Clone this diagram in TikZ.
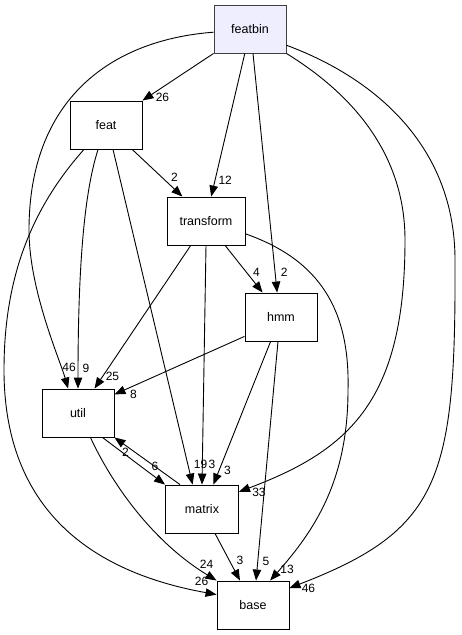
\documentclass[tikz,border=0pt]{standalone}
\usepackage{fontspec}
\setmainfont{Liberation Sans}
\usetikzlibrary{arrows.meta,positioning}
\definecolor{curdir}{HTML}{EEEEFF}

\begin{document}
\begin{tikzpicture}[x=1pt, y=-1pt, line width=.9pt,
        >={Triangle[length=11pt,width=8.5pt]},
        dirbox/.style={draw, rectangle, inner sep=0pt, minimum width=72pt, minimum height=48pt, font=\fontsize{12.5}{14}\selectfont},
        lbl/.style={inner sep=0pt, font=\fontsize{12}{14}\selectfont}]
        \useasboundingbox (0,0) rectangle (461,635);
        \draw node[dirbox, fill=curdir, draw=black!75] (featbin) at (250,29) {featbin};
        \draw node[dirbox] (feat) at (106,125) {feat};
        \draw node[dirbox, minimum width=78pt] (transform) at (206,221) {transform};
        \draw node[dirbox] (hmm) at (281,317) {hmm};
        \draw node[dirbox] (util) at (78,413) {util};
        \draw node[dirbox, minimum width=73pt] (matrix) at (202,509) {matrix};
        \draw node[dirbox] (base) at (253,605) {base};
        % from featbin
        \draw (featbin.south west) edge[->] node[lbl, pos=1, shift={(20,-3)}] {26} (feat.north east);
        \draw (featbin.258) edge[->] node[lbl, pos=1, shift={(14,-16)}] {12} (transform.78);
        \draw (featbin.277) edge[->] node[lbl, pos=1, shift={(7,-20)}] {2} (hmm.99);
        \draw[->] (featbin.185) .. controls (110,40) and (29,100) .. (29,230)
                .. controls (29,290) and (60,360) .. (util.112) node[lbl, pos=1, shift={(1,-21)}] {46};
        \draw[->] (featbin.south east) .. controls (370,105) and (405,170) .. (405,240)
                .. controls (405,400) and (350,450) .. (matrix.25) node[lbl, pos=1, shift={(20,1)}] {33};
        \draw[->] (featbin.336) .. controls (380,80) and (455,150) .. (455,260)
                .. controls (456,480) and (440,530) .. (base.25) node[lbl, pos=1, shift={(19,0)}] {46};
        % from feat
        \draw (feat.317) edge[->] node[lbl, pos=1, shift={(-8,-19)}] {2} (transform.134);
        \draw[->] (feat.252) .. controls (85,190) and (78,260) .. (util.north) node[lbl, pos=1, shift={(8,-20)}] {9};
        \draw (feat.286) edge[->] node[lbl, pos=1, shift={(8,-20)}] {19} (matrix.111);
        \draw[->] (feat.228) .. controls (30,210) and (4,280) .. (4,370)
                .. controls (4,500) and (80,570) .. (base.164) node[lbl, pos=1, shift={(-15,-13)}] {26};
        % from transform
        \draw (transform.238) edge[->] node[lbl, pos=1, shift={(18,-12)}] {25} (util.56);
        \draw (transform.south) edge[->] node[lbl, pos=1, shift={(10,-20)}] {3} (matrix.north);
        \draw (transform.308) edge[->] node[lbl, pos=1, shift={(-6,-20)}] {4} (hmm.127);
        \draw[->] (transform.342) .. controls (320,260) and (350,310) .. (348,390)
                .. controls (348,480) and (315,530) .. (base.55) node[lbl, pos=1, shift={(17,-11)}] {13};
        % from hmm
        \draw (hmm.208) edge[->] node[lbl, pos=1, shift={(19,0)}] {8} (util.27);
        \draw (hmm.247) edge[->] node[lbl, pos=1, shift={(14,-14)}] {3} (matrix.65);
        \draw (hmm.263) edge[->] node[lbl, pos=1, shift={(10,-19)}] {5} (base.83);
        % util and matrix
        \draw (util.315) edge[->] node[lbl, pos=1, shift={(-10,-18)}] {6} (matrix.north west);
        \draw (matrix.132) edge[->] node[lbl, pos=1, shift={(11,15)}] {2} (util.south east);
        \draw[->] (util.297) .. controls (110,480) and (150,540) .. (base.north west) node[lbl, pos=1, shift={(-10,-16)}] {24};
        \draw (matrix.298) edge[->] node[lbl, pos=1, shift={(0,-20)}] {3} (base.118);
      \end{tikzpicture}
\end{document}
